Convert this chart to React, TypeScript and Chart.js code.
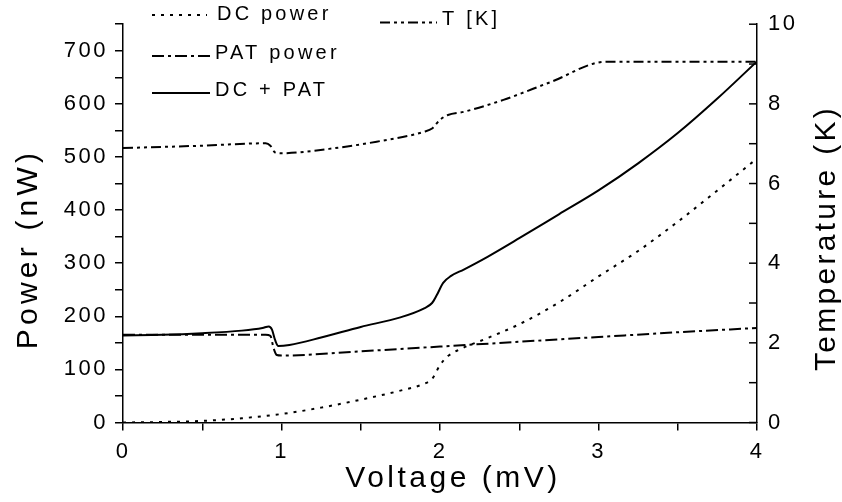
import React, { useEffect, useRef } from "react";
import { Chart, registerables } from "chart.js";

Chart.register(...registerables);

const FONT = "'Liberation Sans', Arial, Helvetica, sans-serif";

// ---- data ----
const dcVoltage = [0, 0.25, 0.5, 0.75, 1.0, 1.25, 1.5, 1.75, 1.9, 1.95, 2.0, 2.05, 2.12, 2.3, 2.5, 2.75, 3.0, 3.25, 3.5, 3.75, 4.0];
const dcPower = [0, 1, 3, 8, 16, 28, 43, 60, 73, 82, 108, 125, 137, 159, 185, 226, 275, 323, 378, 437, 497];

const patVoltage = [0, 0.5, 0.9, 0.93, 0.95, 0.97, 1.0, 1.5, 2.0, 2.5, 3.0, 3.5, 4.0];
const patPower = [165, 165, 165, 163, 140, 127, 126, 134, 143, 152, 161, 170, 178];

const sumVoltage = [0, 0.25, 0.5, 0.75, 0.88, 0.92, 0.94, 0.96, 0.98, 1.05, 1.25, 1.5, 1.75, 1.9, 1.95, 1.98, 2.02, 2.07, 2.15, 2.3, 2.5, 2.75, 3.0, 3.25, 3.5, 3.75, 4.0];
const sumPower = [164, 165, 168, 173, 178, 181, 175, 155, 144, 146, 160, 180, 198, 215, 225, 240, 263, 276, 288, 312, 347, 392, 437, 488, 545, 610, 680];

const tVoltage = [0, 0.5, 0.9, 0.93, 0.96, 1.0, 1.3, 1.6, 1.9, 1.95, 2.0, 2.05, 2.15, 2.4, 2.7, 3.05, 4.0];
const tKelvin = [6.89, 6.95, 7.01, 6.95, 6.78, 6.76, 6.87, 7.05, 7.3, 7.38, 7.6, 7.72, 7.8, 8.1, 8.55, 9.06, 9.06];

const seriesLabels = ["DC power", "PAT power", "DC + PAT", "T [K]"];
const xTitle = "Voltage (mV)";
const leftTitle = "Power (nW)";
const rightTitle = "Temperature (K)";

const xRange = [0, 4];
const powerRange = [0, 750];
const tempRange = [0, 10];

const toPoints = (xs: number[], ys: number[]) => xs.map((x, i) => ({ x, y: ys[i] }));

const TICK_SPACING = 2.5;
const setSpacing = (ctx: any, px: number) => {
  ctx.letterSpacing = px + "px";
};

const decorPlugin = {
  id: "decor",
  beforeUpdate(chart: any) {
    setSpacing(chart.ctx, TICK_SPACING);
  },
  beforeLayout(chart: any) {
    setSpacing(chart.ctx, TICK_SPACING);
  },
  beforeDraw(chart: any) {
    setSpacing(chart.ctx, TICK_SPACING);
  },
  afterDraw(chart: any) {
    const ctx = chart.ctx;
    const area = chart.chartArea;
    const yT = chart.scales.yT;
    ctx.save();
    ctx.strokeStyle = "#000";
    ctx.fillStyle = "#000";
    ctx.setLineDash([]);
    ctx.lineWidth = 1.5;
    // inward ticks on the right axis
    for (let t = tempRange[0]; t <= tempRange[1]; t++) {
      const y = yT.getPixelForValue(t);
      ctx.beginPath();
      ctx.moveTo(area.right - 8, y);
      ctx.lineTo(area.right, y);
      ctx.stroke();
    }

    // axis titles
    ctx.font = `30px ${FONT}`;
    ctx.textAlign = "center";
    ctx.textBaseline = "alphabetic";
    setSpacing(ctx, 3.5);
    ctx.fillText(xTitle, 453, 487);

    ctx.save();
    setSpacing(ctx, 4.2);
    ctx.translate(37, 251);
    ctx.rotate(-Math.PI / 2);
    ctx.fillText(leftTitle, 2, 0);
    ctx.restore();

    ctx.save();
    setSpacing(ctx, 3.3);
    ctx.translate(835, 240);
    ctx.rotate(-Math.PI / 2);
    ctx.fillText(rightTitle, 2, 0);
    ctx.restore();

    // legend
    const slots = [
      { x1: 152, x2: 207, tx: 217, ty: 14.5, ly: 15 },
      { x1: 152, x2: 212, tx: 215, ty: 53.3, ly: 56 },
      { x1: 152, x2: 210, tx: 215, ty: 90.7, ly: 93 },
      { x1: 380, x2: 437, tx: 442, ty: 19.5, ly: 22.5 },
    ];
    ctx.font = `20px ${FONT}`;
    setSpacing(ctx, 3.2);
    ctx.textAlign = "left";
    ctx.textBaseline = "middle";
    chart.data.datasets.forEach((ds: any, i: number) => {
      const s = slots[i];
      ctx.save();
      ctx.lineWidth = ds.borderWidth;
      ctx.setLineDash(ds.borderDash || []);
      ctx.beginPath();
      ctx.moveTo(s.x1, s.ly);
      ctx.lineTo(s.x2, s.ly);
      ctx.stroke();
      ctx.restore();
      ctx.fillText(ds.label, s.tx, s.ty);
    });
    ctx.restore();
    setSpacing(ctx, TICK_SPACING);
  },
};

export default function App() {
  const ref = useRef<HTMLCanvasElement | null>(null);

  useEffect(() => {
    if (!ref.current) return;
    const line = (label: string, pts: any, dash: number[], axis: string) => ({
      label,
      data: pts,
      yAxisID: axis,
      borderColor: "#000",
      backgroundColor: "#000",
      borderWidth: 2,
      borderDash: dash,
      pointRadius: 0,
      fill: false,
      cubicInterpolationMode: "monotone" as const,
    });

    const tickFont = { family: FONT, size: 22 };
    const chart = new Chart(ref.current, {
      type: "line",
      data: {
        datasets: [
          line(seriesLabels[0], toPoints(dcVoltage, dcPower), [3, 6], "yP"),
          line(seriesLabels[1], toPoints(patVoltage, patPower), [12, 4, 3, 4], "yP"),
          line(seriesLabels[2], toPoints(sumVoltage, sumPower), [], "yP"),
          line(seriesLabels[3], toPoints(tVoltage, tKelvin), [10, 4, 3, 4, 3, 4], "yT"),
        ],
      },
      options: {
        animation: false,
        responsive: false,
        devicePixelRatio: 1,
        layout: { padding: { top: 15, left: 0, right: 0, bottom: 0 } },
        plugins: { legend: { display: false }, tooltip: { enabled: false } },
        scales: {
          x: {
            type: "linear",
            min: xRange[0],
            max: xRange[1],
            afterFit: (s: any) => {
              s.height = 79.5;
            },
            border: { display: true, color: "#000", width: 1.5 },
            grid: { drawOnChartArea: false, drawTicks: true, tickLength: 8, color: "#000", lineWidth: 1.5 },
            ticks: {
              stepSize: 0.5,
              autoSkip: false,
              maxRotation: 0,
              padding: 8,
              color: "#000",
              font: tickFont,
              callback: (v: any) => (Number(v) % 1 === 0 ? String(v) : ""),
            },
          },
          yP: {
            type: "linear",
            position: "left",
            min: powerRange[0],
            max: powerRange[1],
            afterFit: (s: any) => {
              s.width = 123;
            },
            border: { display: true, color: "#000", width: 1.5 },
            grid: { drawOnChartArea: false, drawTicks: true, tickLength: 8, color: "#000", lineWidth: 1.5 },
            ticks: {
              stepSize: 50,
              autoSkip: false,
              padding: 7,
              color: "#000",
              font: tickFont,
              callback: (v: any) => (Number(v) % 100 === 0 ? String(v) : ""),
            },
          },
          yT: {
            type: "linear",
            position: "right",
            min: tempRange[0],
            max: tempRange[1],
            afterFit: (s: any) => {
              s.width = 85;
            },
            border: { display: true, color: "#000", width: 1.5 },
            grid: { drawOnChartArea: false, drawTicks: false, display: true, color: "#000" },
            ticks: {
              stepSize: 2,
              autoSkip: false,
              padding: 11,
              color: "#000",
              font: tickFont,
            },
          },
        },
      },
      plugins: [decorPlugin],
    });
    return () => chart.destroy();
  }, []);

  return (
    <div style={{ position: "absolute", left: 0, top: 0, width: 842, height: 502, background: "#fff" }}>
      <canvas ref={ref} width={842} height={502} style={{ display: "block", width: 842, height: 502 }} />
    </div>
  );
}
